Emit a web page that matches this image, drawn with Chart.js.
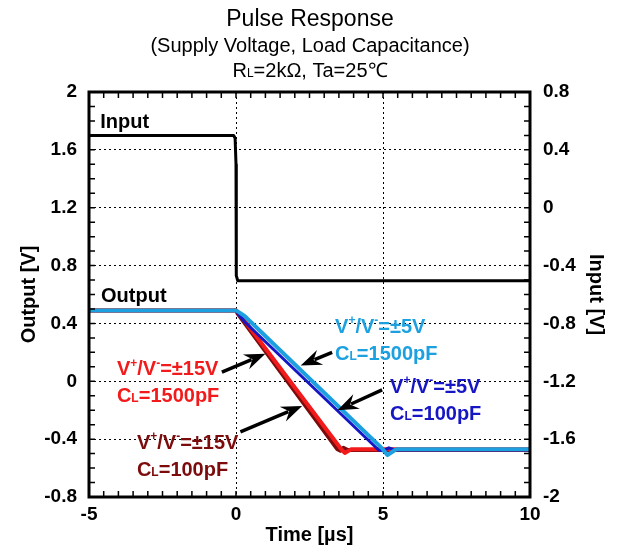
<!DOCTYPE html>
<html>
<head>
<meta charset="utf-8">
<script src="https://cdn.jsdelivr.net/npm/chart.js@4/dist/chart.umd.min.js"></script>
<style>
  body { margin: 0; background: #fff; }
  #wrap { width: 620px; height: 551px; }
</style>
</head>
<body>
<div id="wrap"><canvas id="chart" width="620" height="551"></canvas></div>
<script>
const FONT = "'Liberation Sans', Arial, sans-serif";

// input step (right axis), time in µs
const inputTime = [-5, -0.08, -0.03, 0, 0.01, 0.06, 10];
const inputVolt = [0.5, 0.5, 0.48, 0.3, -0.47, -0.505, -0.505];

// output, V+/V- = ±15V, CL = 100pF
const out15v100Time = [-5, 0, 0.05, 3.45, 3.55, 3.65, 3.8, 10];
const out15v100Volt = [0.49, 0.49, 0.47, -0.47, -0.48, -0.46, -0.475, -0.475];

// output, V+/V- = ±15V, CL = 1500pF
const out15v1500Time = [-5, 0, 0.1, 3.58, 3.7, 3.92, 10];
const out15v1500Volt = [0.49, 0.49, 0.47, -0.47, -0.495, -0.47, -0.47];

// output, V+/V- = ±5V, CL = 100pF
const out5v100Time = [-5, 0, 0.1, 0.3, 4.85, 5.0, 5.2, 5.4, 10];
const out5v100Volt = [0.49, 0.49, 0.46, 0.41, -0.475, -0.48, -0.46, -0.475, -0.475];

// output, V+/V- = ±5V, CL = 1500pF
const out5v1500Time = [-5, 0, 0.12, 0.3, 4.95, 5.15, 5.45, 10];
const out5v1500Volt = [0.49, 0.49, 0.475, 0.45, -0.46, -0.51, -0.47, -0.47];

const xTicks = [-5, 0, 5, 10];
const outputTicks = [-0.8, -0.4, 0, 0.4, 0.8, 1.2, 1.6, 2];
const inputTicks = [-2, -1.6, -1.2, -0.8, -0.4, 0, 0.4, 0.8];

const LIGHT_BLUE = '#1ca0e0';
const BLUE = '#1616c4';
const RED = '#f21a1a';
const DARK_RED = '#7c0c0c';

const pts = (ts, vs) => ts.map((t, i) => ({ x: t, y: vs[i] }));

// text made of runs; sub/sup runs are set smaller
function drawRich(ctx, parts, x, yMid, size, weight, align) {
  const small = Math.round(size * 0.62);
  const fontOf = p => `${weight} ${p.sub || p.sup ? small : size}px ${FONT}`;
  let total = 0;
  for (const p of parts) { ctx.font = fontOf(p); total += ctx.measureText(p.t).width; }
  let cx = align === 'center' ? x - total / 2 : x;
  const base = yMid + size * 0.36;
  ctx.textAlign = 'left';
  ctx.textBaseline = 'alphabetic';
  for (const p of parts) {
    ctx.font = fontOf(p);
    const dy = p.sup ? -size * 0.42 : 0;
    ctx.fillText(p.t, cx, base + dy);
    cx += ctx.measureText(p.t).width;
  }
}

function arrow(ctx, x0, y0, x1, y1) {
  const ang = Math.atan2(y1 - y0, x1 - x0);
  const head = 18, half = 8;
  const c = Math.cos(ang), s = Math.sin(ang);
  const bx = x1 - head * c, by = y1 - head * s;
  ctx.beginPath();
  ctx.moveTo(x0, y0);
  ctx.lineTo(bx + 3 * c, by + 3 * s);
  ctx.lineWidth = 3.5;
  ctx.stroke();
  ctx.beginPath();
  ctx.moveTo(x1, y1);
  ctx.lineTo(bx + half * s - 3 * c, by - half * c - 3 * s);
  ctx.lineTo(bx + 4 * c, by + 4 * s);
  ctx.lineTo(bx - half * s - 3 * c, by + half * c - 3 * s);
  ctx.closePath();
  ctx.fill();
}

const supply = v => [{ t: 'V' }, { t: '+', sup: true }, { t: '/V' }, { t: '-', sup: true }, { t: '=±' + v + 'V' }];
const load = c => [{ t: 'C' }, { t: 'L', sub: true }, { t: '=' + c + 'pF' }];

// labels placed in (time, output volts)
const notes = [
  { t: -4.62, v: 1.80, color: '#000', lines: [[{ t: 'Input' }]] },
  { t: -4.59, v: 0.60, color: '#000', lines: [[{ t: 'Output' }]] },
  { t: 3.37, v: 0.385, color: LIGHT_BLUE, lines: [supply(5), load(1500)] },
  { t: 5.24, v: -0.03, color: BLUE, lines: [supply(5), load(100)] },
  { t: -4.05, v: 0.09, color: RED, lines: [supply(15), load(1500)] },
  { t: -3.37, v: -0.415, color: DARK_RED, lines: [supply(15), load(100)] }
];

// arrows: tail (t, v) -> head (t, v)
const arrows = [
  [-0.48, 0.064, 1.0, 0.19],
  [0.15, -0.35, 2.25, -0.17],
  [3.27, 0.2, 2.2, 0.11],
  [4.97, -0.06, 3.45, -0.2]
];

const decor = {
  id: 'decor',
  afterDatasetsDraw(chart) {
    const { ctx, chartArea: a, scales } = chart;
    const X = scales.x, Y = scales.y, Y1 = scales.y1;
    ctx.save();
    // inner minor ticks
    ctx.strokeStyle = '#000';
    ctx.lineWidth = 1.5;
    ctx.beginPath();
    for (let i = -10; i <= 20; i++) {
      const px = X.getPixelForValue(i / 2);
      ctx.moveTo(px, a.bottom); ctx.lineTo(px, a.bottom - 6);
      ctx.moveTo(px, a.top); ctx.lineTo(px, a.top + 6);
    }
    for (let i = -8; i <= 20; i++) {
      const py = Y.getPixelForValue(i / 10);
      ctx.moveTo(a.left, py); ctx.lineTo(a.left + 6, py);
    }
    for (let i = -20; i <= 8; i++) {
      const py = Y1.getPixelForValue(i / 10);
      ctx.moveTo(a.right, py); ctx.lineTo(a.right - 6, py);
    }
    ctx.stroke();
    ctx.lineWidth = 3;
    ctx.strokeRect(a.left, a.top, a.width, a.height);

    ctx.fillStyle = '#000';
    ctx.strokeStyle = '#000';
    for (const [t0, v0, t1, v1] of arrows) {
      arrow(ctx, X.getPixelForValue(t0), Y.getPixelForValue(v0), X.getPixelForValue(t1), Y.getPixelForValue(v1));
    }
    for (const n of notes) {
      ctx.fillStyle = n.color;
      const x = X.getPixelForValue(n.t);
      let y = Y.getPixelForValue(n.v);
      for (const line of n.lines) {
        drawRich(ctx, line, x, y, 20, 'bold', 'left');
        y += 27;
      }
    }

    // heading
    ctx.fillStyle = '#000';
    drawRich(ctx, [{ t: 'Pulse Response' }], 310, 18, 23, 'normal', 'center');
    drawRich(ctx, [{ t: '(Supply Voltage, Load Capacitance)' }], 310, 45, 20, 'normal', 'center');
    drawRich(ctx, [{ t: 'R' }, { t: 'L', sub: true }, { t: '=2kΩ, Ta=25℃' }], 310, 70, 20, 'normal', 'center');
    ctx.restore();
  }
};

const tickFont = { family: FONT, size: 19, weight: 'bold' };
const titleFont = { family: FONT, size: 20, weight: 'bold' };
const dotted = { display: false, dash: [2, 3] };
const plain = v => String(Math.round(v * 10) / 10);

const ctx = document.getElementById('chart').getContext('2d');
const chart = new Chart(ctx, {
  type: 'line',
  data: {
    datasets: [
      { data: pts(inputTime, inputVolt), yAxisID: 'y1', borderColor: '#000', borderWidth: 3, order: 0 },
      { data: pts(out5v1500Time, out5v1500Volt), yAxisID: 'y', borderColor: LIGHT_BLUE, borderWidth: 4, order: 1 },
      { data: pts(out5v100Time, out5v100Volt), yAxisID: 'y', borderColor: BLUE, borderWidth: 3, order: 2 },
      { data: pts(out15v1500Time, out15v1500Volt), yAxisID: 'y', borderColor: RED, borderWidth: 4, order: 3 },
      { data: pts(out15v100Time, out15v100Volt), yAxisID: 'y', borderColor: DARK_RED, borderWidth: 4, order: 4 }
    ]
  },
  options: {
    responsive: false,
    animation: false,
    layout: { padding: { top: 92, left: 0, right: 0, bottom: 0 } },
    plugins: { legend: { display: false }, tooltip: { enabled: false } },
    elements: {
      point: { radius: 0 },
      line: { tension: 0, borderJoinStyle: 'round', borderCapStyle: 'round', fill: false }
    },
    scales: {
      x: {
        type: 'linear', min: -5, max: 10,
        afterBuildTicks: s => { s.ticks = xTicks.map(v => ({ value: v })); },
        ticks: { font: tickFont, color: '#000', padding: 6, callback: plain },
        grid: { color: c => (c.tick && (c.tick.value === 0 || c.tick.value === 5)) ? '#000' : 'rgba(0,0,0,0)', lineWidth: 1, drawTicks: false },
        border: dotted,
        title: { display: true, text: 'Time [µs]', font: titleFont, color: '#000', padding: { top: 0, bottom: 4 } },
        afterFit: s => { s.height = 54; }
      },
      y: {
        type: 'linear', position: 'left', min: -0.8, max: 2,
        afterBuildTicks: s => { s.ticks = outputTicks.map(v => ({ value: v })); },
        ticks: { font: tickFont, color: '#000', padding: 12, callback: plain },
        grid: { color: c => (c.tick && c.tick.value > -0.8 && c.tick.value < 2) ? '#000' : 'rgba(0,0,0,0)', lineWidth: 1, drawTicks: false },
        border: dotted,
        title: { display: true, text: 'Output [V]', font: titleFont, color: '#000', padding: { top: 17, bottom: 0 } },
        afterFit: s => { s.width = 89; }
      },
      y1: {
        type: 'linear', position: 'right', min: -2, max: 0.8,
        afterBuildTicks: s => { s.ticks = inputTicks.map(v => ({ value: v })); },
        ticks: { font: tickFont, color: '#000', padding: 13, callback: plain },
        grid: { display: false, drawTicks: false },
        border: { display: false },
        title: { display: true, text: 'Input [V]', font: titleFont, color: '#000', padding: { top: 12, bottom: 0 } },
        afterFit: s => { s.width = 90; }
      }
    }
  },
  plugins: [decor]
});
</script>
</body>
</html>
